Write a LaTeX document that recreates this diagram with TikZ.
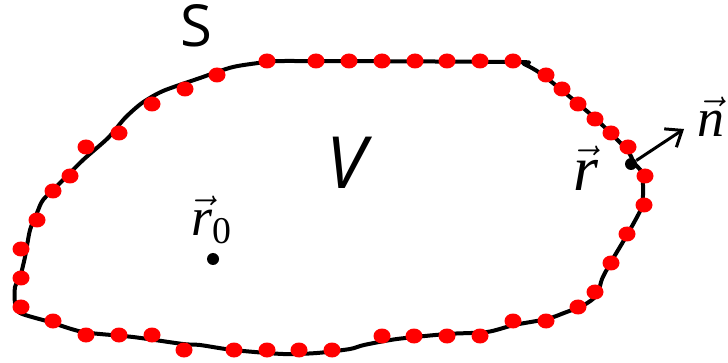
\documentclass[tikz,border=0pt]{standalone}
\usepackage{amsmath}
\usepackage{fontspec}
\setmainfont{Liberation Serif}
\setsansfont{Open Sans}
\usepackage{tikz}
\usetikzlibrary{arrows.meta,shapes.geometric}
\definecolor{dotred}{HTML}{FF0000}

\begin{document}
\begin{tikzpicture}[x=0.5pt,y=-0.5pt,every node/.style={inner sep=0pt}]
      \tikzstyle{rd}=[ellipse,fill=dotred,minimum width=8.5pt,minimum height=7.5pt,inner sep=0pt];
      \tikzstyle{bd}=[circle,fill=black,minimum size=6pt,inner sep=0pt];
      \tikzstyle{vlbl}=[font=\fontsize{27}{27}\selectfont];
      \useasboundingbox (0,0) rectangle (728,363);
      \draw[line width=2pt,line join=round] plot[smooth cycle,tension=0.45] coordinates {
        (290,61) (514,62) (524,64) (540,73) (564,92) (597,120) (627,150)
        (634,163) (642,173) (643,195) (641,209) (627,235) (611,262) (602,279)
        (597,295) (584,305) (564,313) (547,319) (514,325) (487,332) (447,334)
        (397,339) (364,345) (350,349) (317,353) (283,354) (233,350) (200,345)
        (183,344) (133,337) (83,332) (50,322) (20,313) (15,303) (15,287)
        (20,277) (25,257) (30,230) (37,213) (43,200) (60,183) (83,160)
        (108,138) (125,118) (142,103) (163,91) (200,78) (233,67) (267,62)};
      \foreach \px/\py [count=\i] in {21/307,21/278,21/249,37/220,53/191,70/176,
          86/147,119/133,152/104,185/89,217/75,267/61,316/61,349/61,382/61,
          415/61,447/61,480/61,513/61,546/75,562/89,578/104,595/119,611/133,
          628/147,645/176,644/205,627/234,611/263,595/292,578/307,546/321,
          513/321,480/336,447/336,414/336,382/336,332/350,299/350,267/350,
          234/350,184/350,152/335,119/335,86/335,53/321}
        \node[rd] (d\i) at (\px,\py) {};
      \node[bd] (r) at (631,164) {};
      \node[bd] (r0) at (213,259) {};
      \coordinate (ntip) at (684,129);
      \draw[line width=1.5pt,-{Straight Barb[length=7pt,width=11pt,line width=1.5pt]}] (r) -- (ntip);
      \node[font=\sffamily\fontsize{29}{29}\selectfont] (S) at (196,26) {S};
      \node[font=\sffamily\itshape\fontsize{36}{36}\selectfont] (V) at (346,163) {V};
      \node[font=\fontsize{32}{32}\selectfont] (rlbl) at (586,168) {$\vec{\textit{r}}$};
      \node[vlbl] (nlbl) at (711,117) {$\vec{\textit{n}}$};
      \node[vlbl] (r0lbl) at (212,220) {$\vec{\textit{r}}_{\text{0}}$};
    \end{tikzpicture}
\end{document}
